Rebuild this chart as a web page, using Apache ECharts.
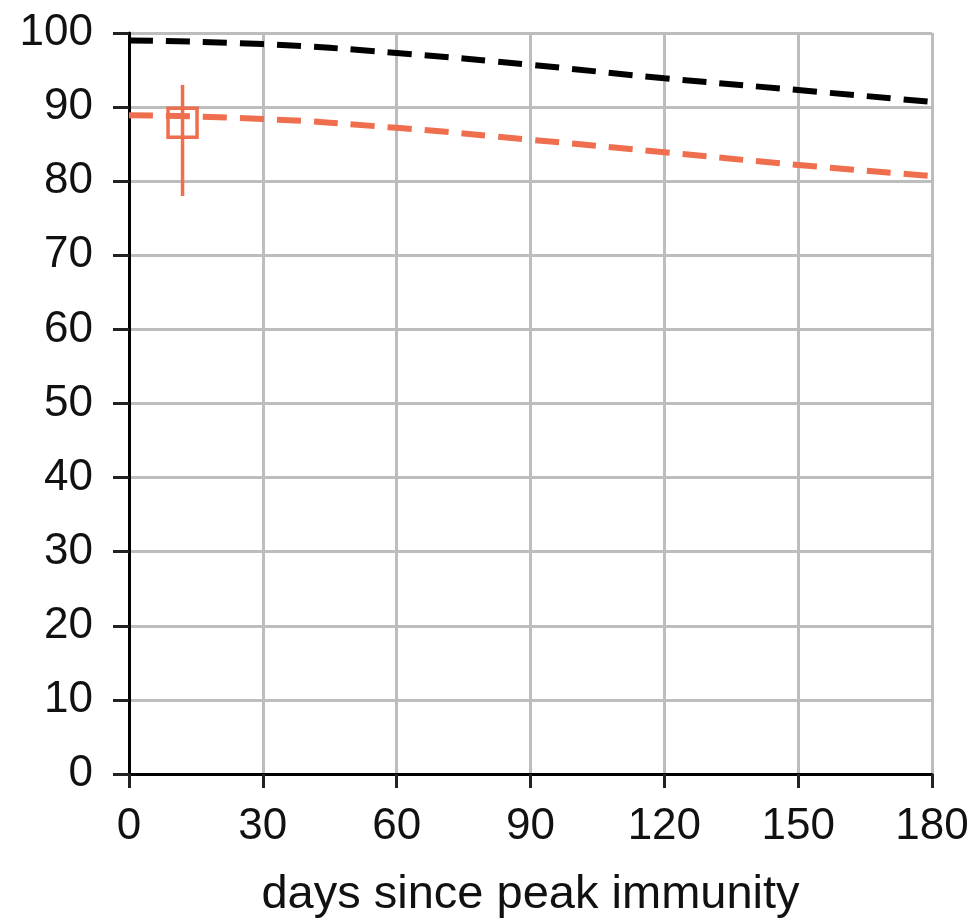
<!DOCTYPE html>
<html>
<head>
<meta charset="utf-8">
<script src="https://cdn.jsdelivr.net/npm/echarts@6/dist/echarts.min.js"></script>
<style>html,body{margin:0;padding:0;background:#fff}#c{width:978px;height:924px}</style>
</head>
<body>
<div id="c"></div>
<script>
var days = [0, 30, 60, 90, 120, 150, 180];
var modelHigh = [99.0, 98.5, 97.3, 95.7, 93.9, 92.3, 90.7];
var modelLow = [88.9, 88.4, 87.2, 85.6, 83.9, 82.2, 80.7];
var obsDay = [12];
var obsValue = [87.9];
var obsLow = [78.0];
var obsHigh = [93.0];
var xTicks = [0, 30, 60, 90, 120, 150, 180];
var yTicks = [0, 10, 20, 30, 40, 50, 60, 70, 80, 90, 100];
var xName = 'days since peak immunity';

var orange = '#EE6E4E';
function pairs(xs, ys){ return xs.map(function(x,i){ return [x, ys[i]]; }); }
var obsData = obsDay.map(function(d,i){ return [d, obsValue[i], obsLow[i], obsHigh[i]]; });

var chart = echarts.init(document.getElementById('c'), null, {renderer:'canvas'});
var font = 'Liberation Sans, Arial, sans-serif';
chart.setOption({
  animation: false,
  backgroundColor: '#fff',
  grid: {left: 129, right: 46, top: 33, bottom: 146, containLabel: false},
  xAxis: {
    type: 'value', min: xTicks[0], max: xTicks[xTicks.length-1], interval: 30,
    name: xName, nameLocation: 'middle', nameGap: 98,
    nameTextStyle: {fontSize: 47, color: '#111', fontFamily: font},
    axisLine: {show: true, onZero: false, lineStyle: {color: '#000', width: 3}},
    axisTick: {show: true, length: 14, lineStyle: {color: '#222', width: 3}},
    axisLabel: {fontSize: 44, color: '#111', fontFamily: font, margin: 31},
    splitLine: {show: true, lineStyle: {color: '#bdbdbd', width: 3}}
  },
  yAxis: {
    type: 'value', min: yTicks[0], max: yTicks[yTicks.length-1], interval: 10,
    axisLine: {show: true, lineStyle: {color: '#000', width: 3}},
    axisTick: {show: true, inside: false, length: 16, lineStyle: {color: '#222', width: 3}},
    axisLabel: {fontSize: 44, color: '#111', fontFamily: font, margin: 36},
    splitLine: {show: true, lineStyle: {color: '#bdbdbd', width: 3}}
  },
  series: [
    {
      type: 'line', smooth: true, showSymbol: false, symbol: 'none',
      data: pairs(days, modelHigh), z: 5,
      lineStyle: {color: '#000', width: 6, type: [24, 13]}
    },
    {
      type: 'line', smooth: true, showSymbol: false, symbol: 'none',
      data: pairs(days, modelLow), z: 5,
      lineStyle: {color: orange, width: 6, type: [24, 13]}
    },
    {
      type: 'custom', z: 6,
      data: obsData,
      renderItem: function(params, api){
        var c = api.coord([api.value(0), api.value(1)]);
        var lo = api.coord([api.value(0), api.value(2)]);
        var hi = api.coord([api.value(0), api.value(3)]);
        var s = 29;
        return {type: 'group', children: [
          {type: 'line', shape: {x1: c[0], y1: lo[1], x2: c[0], y2: hi[1]}, style: {stroke: orange, lineWidth: 3.5}},
          {type: 'rect', shape: {x: c[0]-s/2, y: c[1]-s/2, width: s, height: s}, style: {stroke: orange, fill: null, lineWidth: 3.5}}
        ]};
      }
    }
  ]
});
</script>
</body>
</html>
